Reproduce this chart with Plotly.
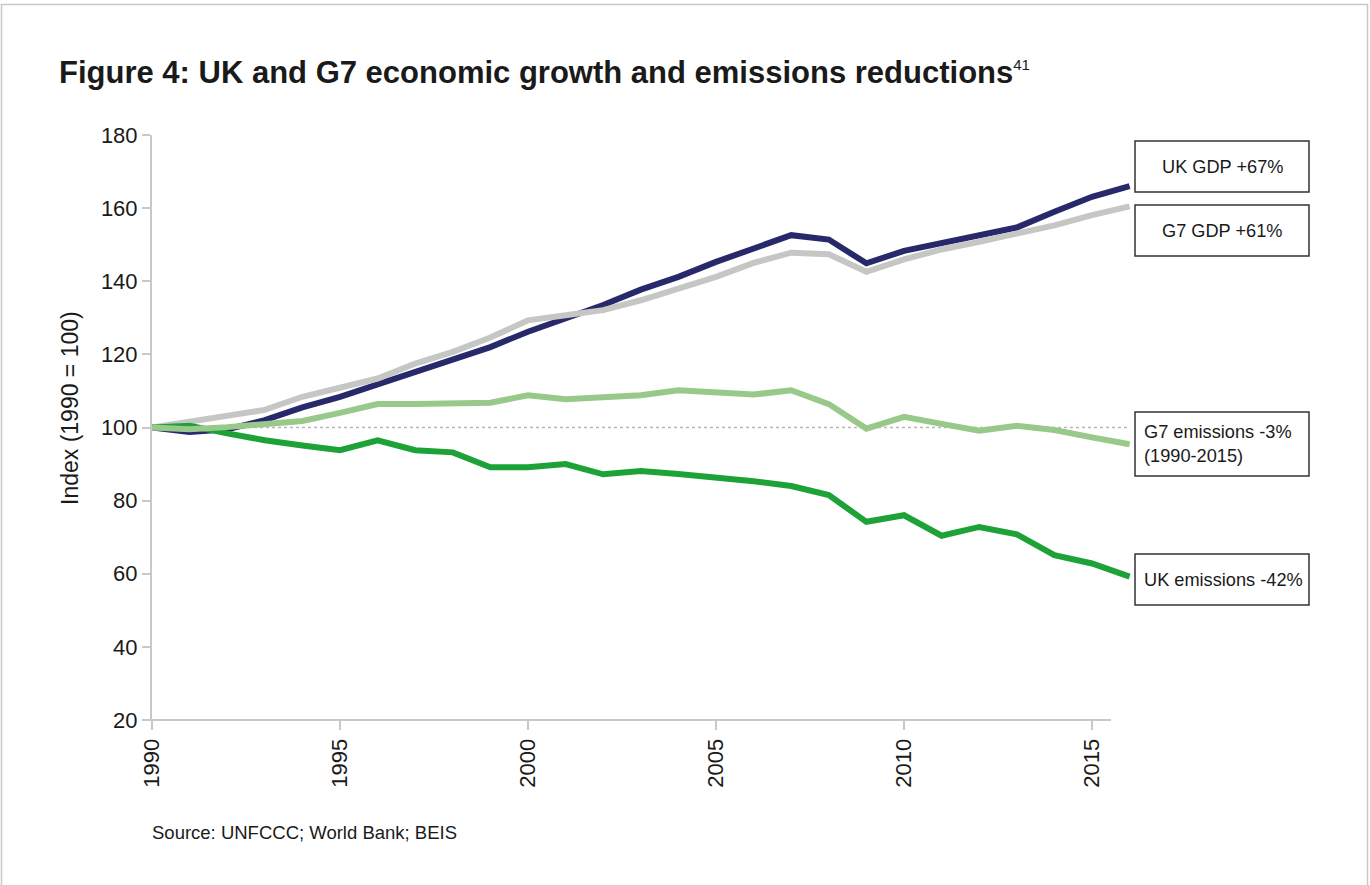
import plotly.graph_objects as go

# ---------------- data ----------------
years = list(range(1990, 2017))
uk_gdp = [100, 98.8, 99.5, 102.0, 105.5, 108.4, 111.8, 115.2, 118.2, 122.0, 126.2, 129.8, 133.5,
          137.7, 141.2, 145.3, 148.8, 152.6, 151.4, 144.9, 148.3, 150.5, 152.3, 154.7, 159.0, 163.1, 166.0]
g7_gdp = [100, 101.5, 103.4, 104.8, 108.4, 110.9, 113.4, 117.5, 120.7, 124.6, 129.3, 130.7, 132.1,
          134.8, 138.0, 141.2, 145.0, 147.8, 147.4, 142.6, 146.0, 148.7, 150.8, 152.9, 155.3, 158.1, 160.5]
g7_em = [100, 99.5, 100.1, 100.9, 101.8, 104.0, 106.4, 106.4, 106.4, 106.8, 108.8, 107.7, 108.3,
         108.8, 110.2, 109.6, 109.0, 110.2, 106.4, 99.7, 102.9, 101.0, 99.1, 100.5, 99.3, 97.3, 95.4]
uk_em = [100, 100.5, 98.4, 96.5, 95.1, 93.8, 96.5, 93.8, 93.2, 89.1, 89.1, 90.0, 87.2,
         88.1, 87.3, 86.5, 85.3, 84.0, 81.5, 74.2, 76.0, 70.4, 72.8, 70.8, 65.1, 62.8, 59.2]

x_ticks = [1990, 1995, 2000, 2005, 2010, 2015]
y_ticks = [20, 40, 60, 80, 100, 120, 140, 160, 180]

series = [
    ("UK GDP", uk_gdp, "#28296b"),
    ("G7 GDP", g7_gdp, "#c6c7c5"),
    ("UK emissions", uk_em, "#1da237"),
    ("G7 emissions", g7_em, "#98c98a"),
]

labels = [
    ("UK GDP +67%", "center"),
    ("G7 GDP +61%", "center"),
    ("G7 emissions -3%<br>(1990-2015)", "left"),
    ("UK emissions -42%", "left"),
]

FONT = "Liberation Sans, Arial, Helvetica, sans-serif"
AX = "#c8c8c8"
TXT = "#1a1a1a"

# ---------------- layout geometry (pixels) ----------------
W, H = 1370, 885
L, R, T, B = 152, 229, 135, 165
PW, PH = W - L - R, H - T - B


def px(x):
    return (x - L) / PW


def py(y):
    return (H - B - y) / PH


fig = go.Figure()
for name, vals, col in series:
    fig.add_trace(go.Scatter(x=years, y=vals, name=name, mode="lines",
                             line=dict(color=col, width=6), hoverinfo="skip"))

shapes = []
# dotted 100 reference line
shapes.append(dict(type="line", xref="x", yref="y", x0=years[0], x1=years[-1], y0=100, y1=100,
                   line=dict(color="#b8b8b8", width=1.5, dash="dot"), layer="below"))
# x axis line
shapes.append(dict(type="line", xref="paper", yref="paper", x0=px(145), x1=px(1111), y0=0, y1=0,
                   line=dict(color=AX, width=2)))
# outer frame
shapes.append(dict(type="rect", xref="paper", yref="paper", x0=px(1.5), x1=px(1367.5),
                   y0=py(895), y1=py(4.5), line=dict(color="#c8c8c8", width=1.5)))

# label boxes (pixel extents)
boxes = [(141, 192), (205, 256), (412, 476), (554, 605)]
for (y0, y1) in boxes:
    shapes.append(dict(type="rect", xref="paper", yref="paper", x0=px(1135), x1=px(1309),
                       y0=py(y1), y1=py(y0), line=dict(color="#333333", width=1.5),
                       fillcolor="white"))

annotations = []
for (text, al), (y0, y1) in zip(labels, boxes):
    if al == "center":
        annotations.append(dict(text=text, xref="paper", yref="paper", x=px(1222), y=py((y0 + y1) / 2),
                                xanchor="center", yanchor="middle", showarrow=False,
                                font=dict(family=FONT, size=18.2, color=TXT)))
    else:
        annotations.append(dict(text=text, xref="paper", yref="paper", x=px(1142), y=py((y0 + y1) / 2),
                                xanchor="left", yanchor="middle", align="left", showarrow=False,
                                font=dict(family=FONT, size=18.2, color=TXT)))

# title
annotations.append(dict(
    text="<b>Figure 4: UK and G7 economic growth and emissions reductions</b>"
         "<sup><span style='font-size:15px'>41</span></sup>",
    xref="paper", yref="paper", x=px(57), y=py(73), xanchor="left", yanchor="middle",
    showarrow=False, font=dict(family=FONT, size=31, color=TXT)))
# y axis title
annotations.append(dict(text="Index (1990 = 100)", xref="paper", yref="paper", x=px(70), y=py(408),
                        xanchor="center", yanchor="middle", textangle=-90, showarrow=False,
                        font=dict(family=FONT, size=23, color=TXT)))
# source
annotations.append(dict(text="Source: UNFCCC; World Bank; BEIS", xref="paper", yref="paper",
                        x=px(150), y=py(832), xanchor="left", yanchor="middle", showarrow=False,
                        font=dict(family=FONT, size=18.5, color=TXT)))

fig.update_layout(
    width=W, height=H, autosize=False,
    margin=dict(l=L, r=R, t=T, b=B, pad=0),
    paper_bgcolor="white", plot_bgcolor="white",
    showlegend=False,
    shapes=shapes, annotations=annotations,
    xaxis=dict(range=[1990, 1990 + PW / 37.6], tickmode="array", tickvals=x_ticks,
               ticktext=[str(v) for v in x_ticks], tickangle=-90, ticks="outside", ticklen=9,
               tickwidth=1.5, tickcolor=AX, showline=False, showgrid=False, zeroline=False,
               tickfont=dict(family=FONT, size=22, color=TXT)),
    yaxis=dict(range=[20, 180], tickmode="array", tickvals=y_ticks, ticks="outside", ticklen=8,
               tickwidth=1.5, tickcolor=AX, showline=True, linecolor=AX, linewidth=2,
               showgrid=False, zeroline=False,
               tickfont=dict(family=FONT, size=22, color=TXT)),
)

fig.write_html("out.html", config={"displayModeBar": False},
               post_script="document.body.style.margin='0px';")
